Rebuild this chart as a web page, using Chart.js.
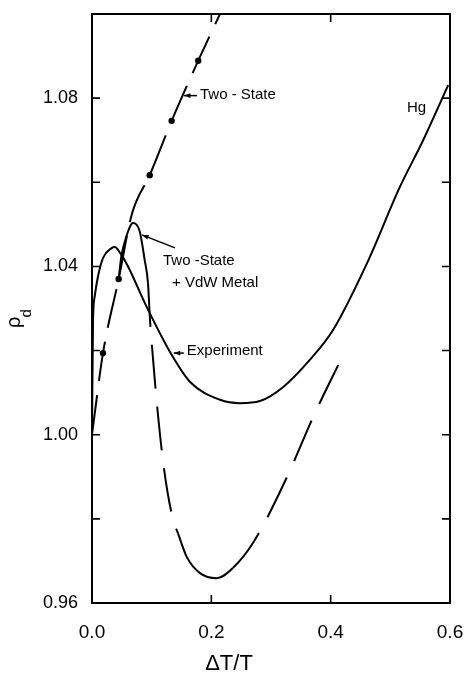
<!DOCTYPE html>
<html>
<head>
<meta charset="utf-8">
<script src="https://cdn.jsdelivr.net/npm/chart.js@4/dist/chart.umd.min.js"></script>
<style>
  html, body { margin: 0; padding: 0; background: #fff; }
  #wrap { width: 466px; height: 675px; }
</style>
</head>
<body>
<div id="wrap"><canvas id="chart"></canvas></div>
<script>
// Reduced density vs. relative temperature
const expX = [0, 0.0017, 0.0045, 0.010, 0.0184, 0.0323, 0.038, 0.049, 0.060, 0.0916, 0.1335, 0.164, 0.2145, 0.248, 0.2815, 0.32, 0.365, 0.404, 0.461, 0.516, 0.555, 0.597];
const expY = [1.000, 1.027, 1.0328, 1.0376, 1.0420, 1.0443, 1.0446, 1.0428, 1.0401, 1.0304, 1.0190, 1.0126, 1.0083, 1.0075, 1.0080, 1.0113, 1.0178, 1.0249, 1.0408, 1.0589, 1.0700, 1.0831];

const twoStateX = [0, 0.0184, 0.0447, 0.067, 0.0967, 0.1335, 0.178, 0.2145];
const twoStateY = [1.000, 1.0194, 1.037, 1.0525, 1.0617, 1.0746, 1.0889, 1.100];

const twoStateDotX = [0.0184, 0.0447, 0.0967, 0.1335, 0.178];
const twoStateDotY = [1.0194, 1.037, 1.0617, 1.0746, 1.0889];

const vdwX = [0.0447, 0.0491, 0.0575, 0.0687, 0.080, 0.0883, 0.0938, 0.0972, 0.102, 0.109, 0.121, 0.136, 0.144, 0.159, 0.181, 0.209, 0.236, 0.270, 0.327, 0.370, 0.421];
const vdwY = [1.037, 1.0423, 1.0471, 1.0503, 1.0483, 1.0415, 1.0361, 1.0273, 1.0185, 1.0070, 0.9916, 0.9797, 0.9766, 0.9709, 0.9671, 0.9659, 0.9683, 0.9743, 0.990, 1.004, 1.019];

const xTicks = [0, 0.2, 0.4, 0.6];
const yLabelTicks = [0.96, 1.00, 1.04, 1.08];

const FONT = "'Liberation Sans', Arial, sans-serif";

function toPoints(xs, ys) {
  return xs.map((x, i) => ({ x: x, y: ys[i] }));
}

// parts of the VdW curve that are drawn solid in the figure
function vdwSolid(x) {
  return (x >= 0.044 && x < 0.0885) || (x >= 0.143 && x < 0.236);
}

// inward tick marks and the box round the plot
const framePlugin = {
  id: 'frame',
  afterDraw(chart) {
    const { ctx, chartArea: a, scales } = chart;
    ctx.save();
    ctx.strokeStyle = '#000';
    ctx.lineWidth = 2;
    ctx.strokeRect(a.left, a.top, a.right - a.left, a.bottom - a.top);
    ctx.lineWidth = 1.6;
    ctx.beginPath();
    scales.y.ticks.forEach(t => {
      const py = scales.y.getPixelForValue(t.value);
      ctx.moveTo(a.left, py); ctx.lineTo(a.left + 8, py);
      ctx.moveTo(a.right, py); ctx.lineTo(a.right - 8, py);
    });
    xTicks.forEach(v => {
      const px = scales.x.getPixelForValue(v);
      ctx.moveTo(px, a.bottom); ctx.lineTo(px, a.bottom - 8);
      ctx.moveTo(px, a.top); ctx.lineTo(px, a.top + 8);
    });
    ctx.stroke();
    ctx.restore();
  }
};

// curve labels, arrows and axis titles
const labelPlugin = {
  id: 'labels',
  afterDatasetsDraw(chart) {
    const { ctx, scales } = chart;
    const X = v => scales.x.getPixelForValue(v);
    const Y = v => scales.y.getPixelForValue(v);
    ctx.save();
    ctx.fillStyle = '#000';
    ctx.strokeStyle = '#000';
    ctx.font = '15px ' + FONT;
    ctx.textBaseline = 'middle';
    ctx.textAlign = 'left';
    ctx.fillText('Two - State', X(0.181), Y(1.0808));
    ctx.fillText('Hg', X(0.528), Y(1.0777));
    ctx.fillText('Two -State', X(0.119), Y(1.0413));
    ctx.fillText('+ VdW Metal', X(0.134), Y(1.0360));
    ctx.fillText('Experiment', X(0.159), Y(1.0199));

    function arrow(x0, y0, x1, y1) {
      const p0 = [X(x0), Y(y0)], p1 = [X(x1), Y(y1)];
      const ang = Math.atan2(p1[1] - p0[1], p1[0] - p0[0]);
      ctx.lineWidth = 1.5;
      ctx.beginPath();
      ctx.moveTo(p0[0], p0[1]);
      ctx.lineTo(p1[0], p1[1]);
      ctx.stroke();
      ctx.beginPath();
      ctx.moveTo(p1[0], p1[1]);
      ctx.lineTo(p1[0] - 7 * Math.cos(ang - 0.35), p1[1] - 7 * Math.sin(ang - 0.35));
      ctx.lineTo(p1[0] - 7 * Math.cos(ang + 0.35), p1[1] - 7 * Math.sin(ang + 0.35));
      ctx.closePath();
      ctx.fill();
    }
    arrow(0.176, 1.0806, 0.154, 1.0806);
    arrow(0.139, 1.0444, 0.0838, 1.0475);
    arrow(0.154, 1.0194, 0.137, 1.0194);

    // x axis title
    ctx.font = '22px ' + FONT;
    ctx.textAlign = 'center';
    ctx.fillText('ΔT/T', X(0.2296), 664);

    // y axis title, rho with subscript d
    ctx.translate(20, 328);
    ctx.rotate(-Math.PI / 2);
    ctx.textAlign = 'left';
    ctx.textBaseline = 'alphabetic';
    ctx.font = '20px ' + FONT;
    ctx.fillText('ρ', 0, 0);
    const w = ctx.measureText('ρ').width;
    ctx.font = '15px ' + FONT;
    ctx.fillText('d', w - 1, 11);
    ctx.restore();
  }
};

const ctx = document.getElementById('chart').getContext('2d');
const chart = new Chart(ctx, {
  type: 'scatter',
  data: {
    datasets: [
      {
        label: 'Experiment',
        data: toPoints(expX, expY),
        showLine: true,
        borderColor: '#000',
        borderWidth: 2,
        pointRadius: 0,
        cubicInterpolationMode: 'monotone'
      },
      {
        label: 'Two-State',
        data: toPoints(twoStateX, twoStateY),
        showLine: true,
        borderColor: '#000',
        borderWidth: 2,
        borderDash: [40, 14],
        pointRadius: 0,
        cubicInterpolationMode: 'monotone'
      },
      {
        label: 'Two-State points',
        data: toPoints(twoStateDotX, twoStateDotY),
        showLine: false,
        pointRadius: 3.2,
        pointBackgroundColor: '#000',
        pointBorderColor: '#000',
        pointBorderWidth: 0
      },
      {
        label: 'Two-State + VdW Metal',
        data: toPoints(vdwX, vdwY),
        showLine: true,
        borderColor: '#000',
        borderWidth: 2,
        pointRadius: 0,
        cubicInterpolationMode: 'monotone',
        segment: {
          borderDash: c => vdwSolid(c.p0.parsed.x) ? [] : [44, 18]
        }
      }
    ]
  },
  options: {
    responsive: true,
    maintainAspectRatio: false,
    animation: false,
    layout: { padding: { top: 14, right: 16, left: 0, bottom: 0 } },
    plugins: {
      legend: { display: false },
      tooltip: { enabled: false }
    },
    scales: {
      x: {
        type: 'linear',
        min: 0,
        max: 0.6,
        afterFit: s => {
          s.height = 72;
          s.paddingLeft = 0;
          s.paddingRight = 0;
        },
        afterBuildTicks: s => { s.ticks = xTicks.map(v => ({ value: v })); },
        grid: { display: false, drawTicks: false },
        border: { display: false },
        ticks: {
          color: '#000',
          padding: 18,
          font: { family: FONT, size: 19 },
          callback: v => v.toFixed(1)
        }
      },
      y: {
        min: 0.96,
        max: 1.10,
        afterFit: s => {
          s.width = 92;
          s.paddingTop = 0;
          s.paddingBottom = 0;
        },
        grid: { display: false, drawTicks: false },
        border: { display: false },
        ticks: {
          stepSize: 0.02,
          color: '#000',
          padding: 14,
          font: { family: FONT, size: 18 },
          callback: v => {
            const hit = yLabelTicks.some(t => Math.abs(t - v) < 1e-6);
            return hit ? v.toFixed(2) : '';
          }
        }
      }
    }
  },
  plugins: [framePlugin, labelPlugin]
});
</script>
</body>
</html>
